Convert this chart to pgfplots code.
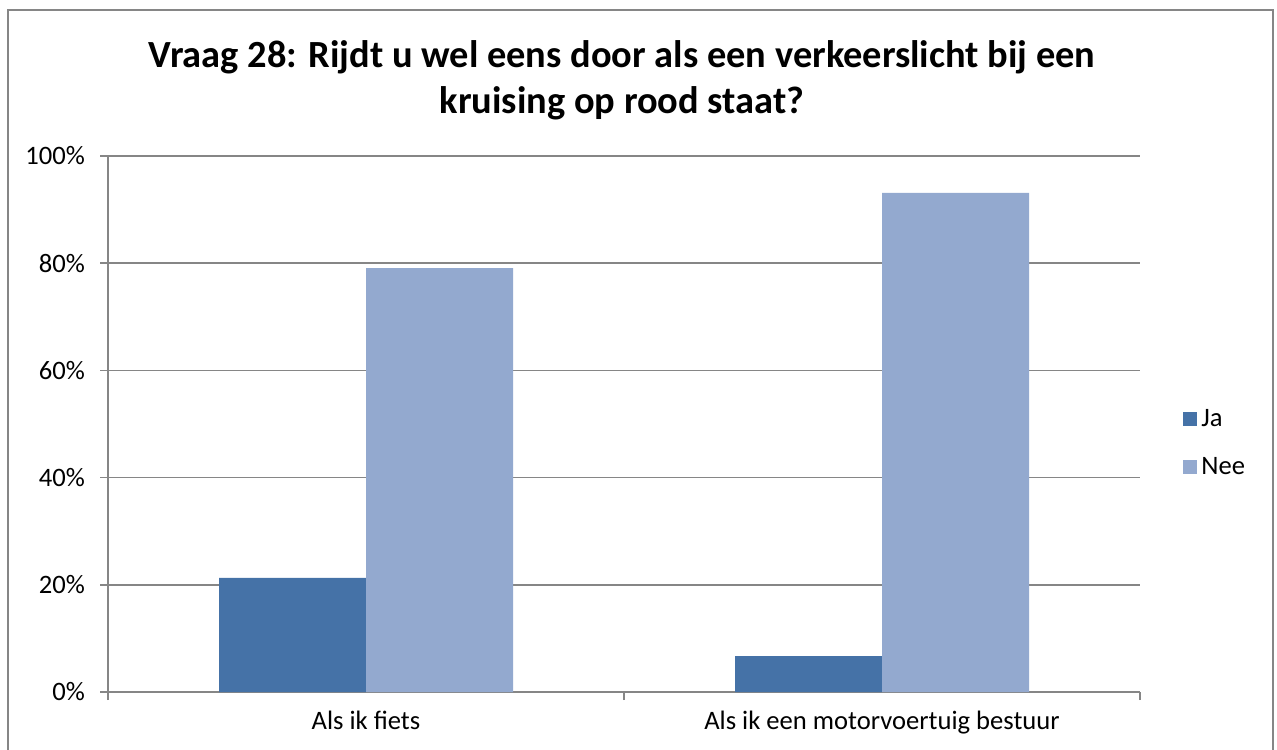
\documentclass[border=0pt]{standalone}
\usepackage{fontspec}
\setmainfont{Carlito}
\usepackage{pgfplots}
\pgfplotsset{compat=1.18}
\definecolor{ja}{HTML}{4572A7}
\definecolor{nee}{HTML}{93A9CF}
\definecolor{axgray}{HTML}{868686}
\begin{document}
\begin{tikzpicture}
\useasboundingbox (-54pt,-28.5pt) rectangle (584.5pt,346pt);
\draw[axgray, line width=1pt] (-50pt,-30pt) -- (-50pt,341pt) -- (582.5pt,341pt) -- (582.5pt,-30pt);
\begin{axis}[
    at={(0pt,0pt)}, anchor=south west,
    scale only axis,
    width=516pt, height=268pt,
    ybar=0pt, bar width=73.5pt,
    xmin=-0.5, xmax=1.5,
    ymin=0, ymax=100,
    xtick={0,1},
    xticklabels={Als ik fiets, Als ik een motorvoertuig bestuur},
    minor xtick={-0.5,0.5,1.5},
    major x tick style={draw=none},
    minor tick length=4pt,
    ytick={0,20,...,100},
    yticklabel={\pgfmathprintnumber{\tick}\%},
    /pgf/number format/assume math mode=true,
    tick align=outside,
    major tick length=4pt,
    tick style={axgray, line width=0.75pt},
    ymajorgrids,
    grid style={axgray, line width=0.75pt},
    axis line style={axgray, line width=0.75pt},
    axis x line*=bottom,
    axis y line*=left,
    ticklabel style={font=\fontsize{13.3}{15}\selectfont, text=black},
    xticklabel style={yshift=-2pt},
    yticklabel style={xshift=-4pt},
    legend style={at={(1.0417,0.536)}, anchor=north west, draw=none, fill=none,
        font=\fontsize{13.3}{15}\selectfont, row sep=10pt, inner sep=0pt},
    legend cell align=left,
    legend image code/.code={\fill[#1] (0pt,-3.5pt) rectangle (7pt,3.5pt);},
]
\addplot[fill=ja, draw=none] coordinates {(0,21.3) (1,6.7)};
\addplot[fill=nee, draw=none] coordinates {(0,79.1) (1,93.1)};
\legend{Ja, Nee}
\end{axis}
\node[font=\bfseries\fontsize{19.2}{23}\selectfont, align=center] at (257pt,306pt)
    {Vraag 28: Rijdt u wel eens door als een verkeerslicht bij een\\kruising op rood staat?};
\end{tikzpicture}
\end{document}
